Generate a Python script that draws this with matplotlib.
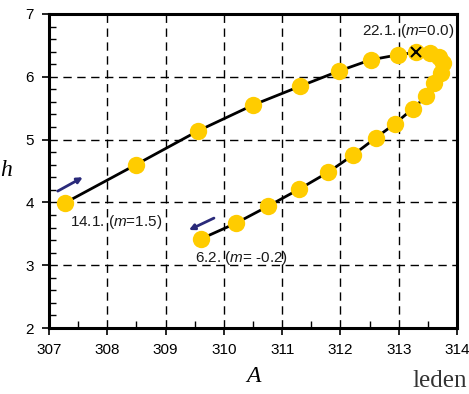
import numpy as np
import matplotlib.pyplot as plt
from matplotlib.ticker import MultipleLocator

plt.rcParams['font.family'] = ['Liberation Sans', 'DejaVu Sans']
plt.rcParams['mathtext.fontset'] = 'custom'
plt.rcParams['mathtext.it'] = 'Liberation Sans:italic'
plt.rcParams['mathtext.rm'] = 'Liberation Sans'

# daily points, 14.1. -> 6.2.
A = [307.27, 308.49, 309.56, 310.50, 311.31, 311.97, 312.52, 312.99, 313.30,
     313.53, 313.69, 313.76, 313.72, 313.60, 313.47, 313.24, 312.93, 312.61,
     312.21, 311.79, 311.29, 310.76, 310.21, 309.61]
h = [3.99, 4.60, 5.14, 5.55, 5.85, 6.09, 6.27, 6.35, 6.39,
     6.38, 6.32, 6.22, 6.06, 5.90, 5.69, 5.49, 5.25, 5.03,
     4.75, 4.48, 4.21, 3.94, 3.67, 3.42]

i_peak = 8  # 22.1., m = 0.0

labels = [
    (312.37, 6.73, '22.1. ($m$=0.0)'),
    (307.36, 3.69, '14.1. ($m$=1.5)'),
    (309.50, 3.11, '6.2. ($m$= -0.2)'),
]

# direction arrows (tail, head)
arrows = [
    ((307.15, 4.18), (307.58, 4.40)),
    ((309.83, 3.75), (309.40, 3.56)),
]

fig = plt.figure(figsize=(4.69, 3.94), dpi=100)
ax = fig.add_axes([0.1045, 0.1675, 0.8699, 0.797])

ax.plot(A, h, color='black', lw=2, zorder=3)
ax.plot(A, h, 'o', color='#FFCC00', ms=12.5, mec='none', zorder=4)
ax.plot(A[i_peak], h[i_peak], 'x', color='black', ms=6.5, mew=1.5, zorder=5)

for x, y, s in labels:
    ax.text(x, y, s, fontsize=11, va='center', ha='left', color='#1a1a1a', zorder=6)

for (x0, y0), (x1, y1) in arrows:
    ax.annotate('', xy=(x1, y1), xytext=(x0, y0),
                arrowprops=dict(arrowstyle='-|>', color='#2a2a7a', lw=2,
                                mutation_scale=8, shrinkA=0, shrinkB=0))

ax.set_xlim(307, 314)
ax.set_ylim(2, 7)
ax.xaxis.set_major_locator(MultipleLocator(1))
ax.xaxis.set_minor_locator(MultipleLocator(0.5))
ax.yaxis.set_major_locator(MultipleLocator(1))
ax.yaxis.set_minor_locator(MultipleLocator(0.2))
ax.tick_params(which='major', direction='out', length=5, width=1.2, labelsize=11, pad=6)
ax.tick_params(which='minor', direction='in', length=5, width=1)
ax.grid(True, which='major', color='black', ls=(0, (6, 4)), lw=1)
for sp in ax.spines.values():
    sp.set_linewidth(2.2)

ax.set_xlabel('A', fontsize=17, family='Liberation Serif', style='italic', labelpad=6)
ax.set_ylabel('h', fontsize=17, family='Liberation Serif', style='italic',
              rotation=0, labelpad=14, va='center')

fig.text(0.995, 0.005, 'leden', fontsize=18, family='Liberation Serif',
         ha='right', va='bottom', color='#333333')

fig.savefig('out.png', dpi=100)
